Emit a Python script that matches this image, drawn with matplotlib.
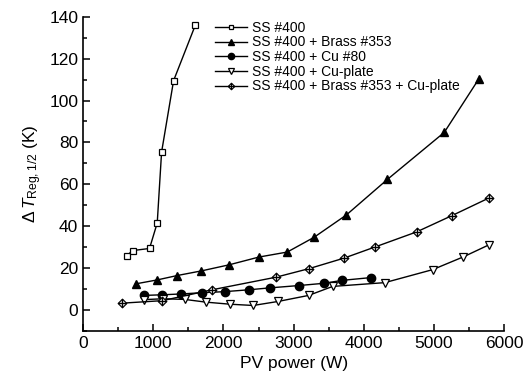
import matplotlib
matplotlib.use('agg')
import matplotlib.pyplot as plt
from matplotlib.path import Path
from matplotlib.ticker import MultipleLocator

plt.rcParams['font.family'] = 'Liberation Sans'
plt.rcParams['mathtext.fontset'] = 'custom'
plt.rcParams['mathtext.rm'] = 'Liberation Sans'
plt.rcParams['mathtext.it'] = 'Liberation Sans:italic'

# data
ss_x = [624, 705, 947, 1057, 1119, 1290, 1600]
ss_y = [25.9, 28.4, 29.4, 41.6, 75.4, 109.5, 136.0]

brass_x = [748, 1057, 1343, 1686, 2081, 2505, 2910, 3290, 3752, 4338, 5147, 5641]
brass_y = [12.5, 14.4, 16.5, 18.7, 21.6, 25.3, 27.7, 34.7, 45.4, 62.4, 84.8, 110.4]

cu80_x = [867, 1129, 1400, 1700, 2019, 2367, 2662, 3071, 3438, 3695, 4100]
cu80_y = [7.0, 7.3, 7.7, 8.3, 8.8, 9.7, 10.6, 11.7, 12.8, 14.2, 15.5]

cuplate_x = [871, 1143, 1447, 1748, 2095, 2424, 2776, 3214, 3557, 4300, 4981, 5419, 5781]
cuplate_y = [5.0, 5.4, 5.1, 3.8, 2.8, 2.2, 4.1, 7.0, 11.3, 13.1, 19.3, 25.4, 31.1]

combo_x = [555, 1130, 1840, 2750, 3222, 3719, 4167, 4752, 5257, 5790]
combo_y = [3.3, 4.5, 9.7, 15.7, 19.8, 24.8, 30.2, 37.3, 45.1, 53.6]

labels = ['SS #400', 'SS #400 + Brass #353', 'SS #400 + Cu #80',
          'SS #400 + Cu-plate', 'SS #400 + Brass #353 + Cu-plate']

# diamond with a cross inside
verts = [(0, 1), (1, 0), (0, -1), (-1, 0), (0, 1),
         (0, 1), (0, -1), (-1, 0), (1, 0)]
codes = [Path.MOVETO, Path.LINETO, Path.LINETO, Path.LINETO, Path.CLOSEPOLY,
         Path.MOVETO, Path.LINETO, Path.MOVETO, Path.LINETO]
dcross = Path(verts, codes)

fig = plt.figure(figsize=(5.29, 3.89), dpi=100)
ax = fig.add_axes([0.157, 0.149, 0.796, 0.808])

lw = 1.0
ax.plot(ss_x, ss_y, color='black', lw=lw, marker='s', ms=4.5, mfc='white', mec='black', mew=0.9, label=labels[0])
ax.plot(brass_x, brass_y, color='black', lw=lw, marker='^', ms=6, mfc='black', mec='black', label=labels[1])
ax.plot(cu80_x, cu80_y, color='black', lw=lw, marker='o', ms=6, mfc='black', mec='black', label=labels[2])
ax.plot(cuplate_x, cuplate_y, color='black', lw=lw, marker='v', ms=6.3, mfc='white', mec='black', mew=0.9, label=labels[3])
ax.plot(combo_x, combo_y, color='black', lw=lw, marker=dcross, ms=6.3, mfc='#c8c8c8', mec='black', mew=0.8, label=labels[4])

ax.set_xlim(0, 6000)
ax.set_ylim(-10, 140)
ax.xaxis.set_major_locator(MultipleLocator(1000))
ax.xaxis.set_minor_locator(MultipleLocator(500))
ax.yaxis.set_major_locator(MultipleLocator(20))
ax.yaxis.set_minor_locator(MultipleLocator(10))
ax.set_yticks(range(0, 141, 20))
ax.tick_params(which='both', direction='in', labelsize=12.5, width=1.1)
ax.tick_params(which='major', length=5)
ax.tick_params(which='minor', length=3)
ax.spines['top'].set_visible(False)
ax.spines['right'].set_visible(False)
ax.spines['left'].set_linewidth(1.2)
ax.spines['bottom'].set_linewidth(1.2)

ax.set_xlabel('PV power (W)', fontsize=12.5)
ax.set_ylabel(r'$\Delta\,T_{\mathrm{Reg,1/2}}$ (K)', fontsize=12.5, labelpad=4)

ax.legend(loc='upper left', bbox_to_anchor=(0.3, 1.005), frameon=False, fontsize=10,
          handlelength=2.3, handletextpad=0.4, labelspacing=0.05, borderaxespad=0,
          markerscale=0.75)

fig.savefig('out.png', dpi=100)
